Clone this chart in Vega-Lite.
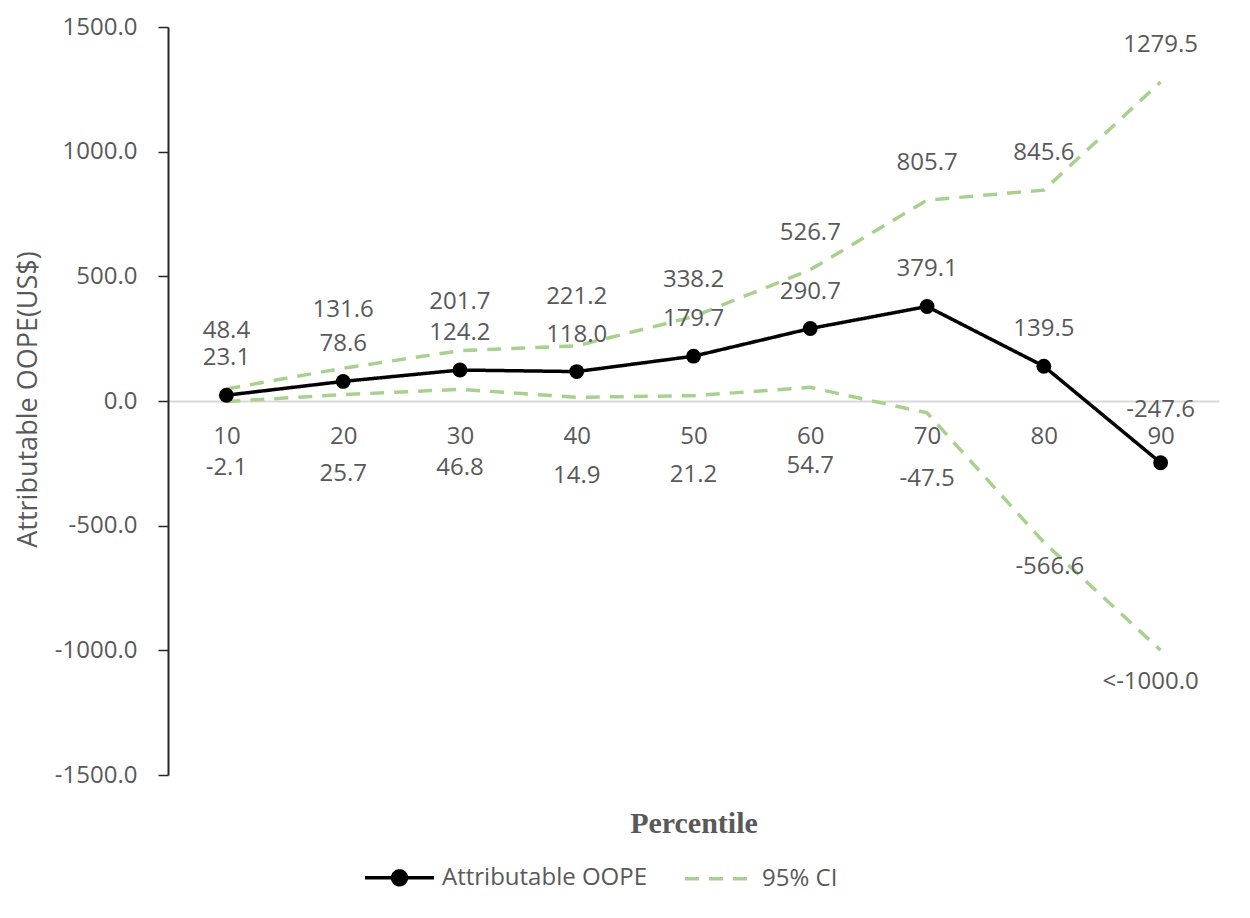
{
  "$schema": "https://vega.github.io/schema/vega-lite/v6.json",
  "autosize": {"type": "none"},
  "width": 1051,
  "height": 748,
  "padding": {"left": 168, "top": 27, "right": 31, "bottom": 143},
  "background": "white",
  "config": {
    "view": {"stroke": null},
    "font": "Open Sans",
    "text": {"font": "Open Sans", "fontSize": 24, "color": "#595959", "baseline": "middle", "align": "center"}
  },
  "datasets": {
    "d": [
      {"p": "10", "series": "Attributable OOPE", "bound": "mean", "value": 23.1, "label": "23.1"},
      {"p": "20", "series": "Attributable OOPE", "bound": "mean", "value": 78.6, "label": "78.6"},
      {"p": "30", "series": "Attributable OOPE", "bound": "mean", "value": 124.2, "label": "124.2"},
      {"p": "40", "series": "Attributable OOPE", "bound": "mean", "value": 118.0, "label": "118.0"},
      {"p": "50", "series": "Attributable OOPE", "bound": "mean", "value": 179.7, "label": "179.7"},
      {"p": "60", "series": "Attributable OOPE", "bound": "mean", "value": 290.7, "label": "290.7"},
      {"p": "70", "series": "Attributable OOPE", "bound": "mean", "value": 379.1, "label": "379.1"},
      {"p": "80", "series": "Attributable OOPE", "bound": "mean", "value": 139.5, "label": "139.5"},
      {"p": "90", "series": "Attributable OOPE", "bound": "mean", "value": -247.6, "label": "-247.6"},
      {"p": "10", "series": "95% CI", "bound": "upper", "value": 48.4, "label": "48.4"},
      {"p": "20", "series": "95% CI", "bound": "upper", "value": 131.6, "label": "131.6"},
      {"p": "30", "series": "95% CI", "bound": "upper", "value": 201.7, "label": "201.7"},
      {"p": "40", "series": "95% CI", "bound": "upper", "value": 221.2, "label": "221.2"},
      {"p": "50", "series": "95% CI", "bound": "upper", "value": 338.2, "label": "338.2"},
      {"p": "60", "series": "95% CI", "bound": "upper", "value": 526.7, "label": "526.7"},
      {"p": "70", "series": "95% CI", "bound": "upper", "value": 805.7, "label": "805.7"},
      {"p": "80", "series": "95% CI", "bound": "upper", "value": 845.6, "label": "845.6"},
      {"p": "90", "series": "95% CI", "bound": "upper", "value": 1279.5, "label": "1279.5"},
      {"p": "10", "series": "95% CI", "bound": "lower", "value": -2.1, "label": "-2.1"},
      {"p": "20", "series": "95% CI", "bound": "lower", "value": 25.7, "label": "25.7"},
      {"p": "30", "series": "95% CI", "bound": "lower", "value": 46.8, "label": "46.8"},
      {"p": "40", "series": "95% CI", "bound": "lower", "value": 14.9, "label": "14.9"},
      {"p": "50", "series": "95% CI", "bound": "lower", "value": 21.2, "label": "21.2"},
      {"p": "60", "series": "95% CI", "bound": "lower", "value": 54.7, "label": "54.7"},
      {"p": "70", "series": "95% CI", "bound": "lower", "value": -47.5, "label": "-47.5"},
      {"p": "80", "series": "95% CI", "bound": "lower", "value": -566.6, "label": "-566.6"},
      {"p": "90", "series": "95% CI", "bound": "lower", "value": -1000.0, "label": "<-1000.0"}
    ]
  },
  "data": {"name": "d"},
  "encoding": {
    "x": {
      "field": "p", "type": "ordinal", "sort": null,
      "scale": {"type": "point", "padding": 0.5},
      "axis": {
        "title": "Percentile", "titleFont": "Liberation Serif", "titleFontWeight": "bold", "titleFontSize": 30,
        "titleColor": "#595959", "titleY": 422, "titleBaseline": "middle",
        "offset": -374, "ticks": false, "labelAngle": 0, "labelPadding": 35, "labelBaseline": "middle",
        "labelFontSize": 24, "labelColor": "#595959", "labelFont": "Open Sans",
        "domainColor": "#d9d9d9", "domainWidth": 2, "grid": false
      }
    },
    "y": {
      "field": "value", "type": "quantitative",
      "scale": {"domain": [-1500, 1500], "nice": false, "zero": false},
      "axis": {
        "title": "Attributable OOPE(US$)", "titleFont": "Open Sans", "titleFontWeight": "normal", "titleFontSize": 27,
        "titleColor": "#595959", "titleX": -140, "titleY": 372, "titleAngle": -90, "titleBaseline": "middle", "titleAlign": "center",
        "values": [-1500, -1000, -500, 0, 500, 1000, 1500], "format": ".1f",
        "labelExpr": "replace(datum.label, '\u2212', '-')",
        "tickSize": 10, "tickColor": "#262626", "tickWidth": 1.5, "domainColor": "#262626", "domainWidth": 2,
        "labelPadding": 21, "labelFontSize": 24, "labelColor": "#595959", "labelFont": "Open Sans", "grid": false
      }
    }
  },
  "layer": [
    {
      "transform": [{"filter": "datum.series === '95% CI'"}],
      "mark": {"type": "line", "strokeWidth": 3.5, "strokeCap": "butt"},
      "encoding": {
        "detail": {"field": "bound"},
        "color": {
          "field": "series", "type": "nominal",
          "scale": {"domain": ["Attributable OOPE", "95% CI"], "range": ["#000000", "#a9d18e"]},
          "legend": {
            "orient": "none", "direction": "horizontal", "legendX": 195, "legendY": 814, "title": null,
            "symbolType": "stroke", "symbolSize": 4761, "symbolStrokeWidth": 3.5,
            "labelFontSize": 24, "labelColor": "#595959", "labelFont": "Open Sans", "labelOffset": 6, "labelLimit": 500,
            "columnPadding": 30,
            "encode": {
              "symbols": {
                "update": {
                  "shape": [
                    {"test": "datum.value === 'Attributable OOPE'", "value": "M-1,0L1,0M-0.2,0A0.2,0.2,0,1,1,0.2,0A0.2,0.2,0,1,1,-0.2,0Z"},
                    {"value": "stroke"}
                  ],
                  "fill": [
                    {"test": "datum.value === 'Attributable OOPE'", "value": "#000000"},
                    {"value": "transparent"}
                  ]
                }
              }
            }
          }
        },
        "strokeDash": {
          "field": "series", "type": "nominal",
          "scale": {"domain": ["Attributable OOPE", "95% CI"], "range": [[1, 0], [14, 10]]},
          "legend": null
        }
      }
    },
    {
      "transform": [{"filter": "datum.series === 'Attributable OOPE'"}],
      "mark": {"type": "line", "strokeWidth": 3.5},
      "encoding": {
        "color": {"field": "series", "type": "nominal"},
        "strokeDash": {"field": "series", "type": "nominal"}
      }
    },
    {
      "transform": [{"filter": "datum.series === 'Attributable OOPE'"}],
      "mark": {"type": "point", "filled": true, "size": 220, "opacity": 1, "color": "#000000"},
      "encoding": {}
    },
    {
      "transform": [{"filter": "datum.bound === 'mean' && datum.p !== '90'"}],
      "mark": {"type": "text", "dy": -37},
      "encoding": {"text": {"field": "label"}}
    },
    {
      "transform": [{"filter": "datum.bound === 'mean' && datum.p === '90'"}],
      "mark": {"type": "text", "dy": -53},
      "encoding": {"text": {"field": "label"}}
    },
    {
      "transform": [{"filter": "datum.bound === 'upper' && (datum.p === '10' || datum.p === '20')"}],
      "mark": {"type": "text", "dy": -58},
      "encoding": {"text": {"field": "label"}}
    },
    {
      "transform": [{"filter": "datum.bound === 'upper' && (datum.p === '30' || datum.p === '40')"}],
      "mark": {"type": "text", "dy": -49},
      "encoding": {"text": {"field": "label"}}
    },
    {
      "transform": [{"filter": "datum.bound === 'upper' && datum.p !== '10' && datum.p !== '20' && datum.p !== '30' && datum.p !== '40'"}],
      "mark": {"type": "text", "dy": -37},
      "encoding": {"text": {"field": "label"}}
    },
    {
      "transform": [{"filter": "datum.bound === 'lower' && (datum.p === '10' || datum.p === '70')"}],
      "mark": {"type": "text", "dy": 66},
      "encoding": {"text": {"field": "label"}}
    },
    {
      "transform": [{"filter": "datum.bound === 'lower' && datum.p !== '10' && datum.p !== '70' && datum.p !== '80' && datum.p !== '90'"}],
      "mark": {"type": "text", "dy": 79},
      "encoding": {"text": {"field": "label"}}
    },
    {
      "transform": [{"filter": "datum.bound === 'lower' && datum.p === '80'"}],
      "mark": {"type": "text", "dy": 25, "dx": 6},
      "encoding": {"text": {"field": "label"}}
    },
    {
      "transform": [{"filter": "datum.bound === 'lower' && datum.p === '90'"}],
      "mark": {"type": "text", "dy": 32, "dx": -10},
      "encoding": {"text": {"field": "label"}}
    }
  ]
}
